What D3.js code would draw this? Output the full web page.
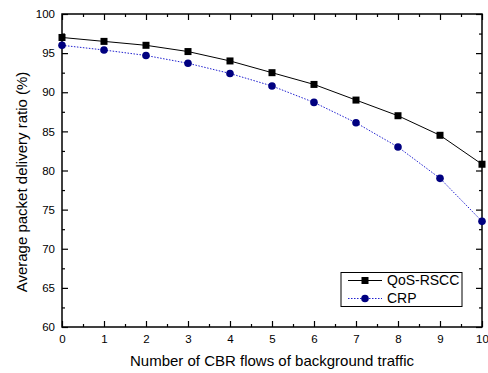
<!DOCTYPE html>
<html>
<head>
<meta charset="utf-8">
<script src="https://cdn.jsdelivr.net/npm/d3@7"></script>
<style>
  body { margin: 0; background: #fff; }
  svg { display: block; font-family: "Liberation Sans", Arial, sans-serif; }
  .axis .domain { display: none; }
  .axis line { stroke: #000; stroke-width: 1.2; }
  .axis text { font-size: 11.5px; fill: #000; }
</style>
</head>
<body>
<script>
// chart values
var flows = [0, 1, 2, 3, 4, 5, 6, 7, 8, 9, 10];
var qosRscc = [97.0, 96.5, 96.0, 95.2, 94.0, 92.5, 91.0, 89.0, 87.0, 84.5, 80.8];
var crp = [96.0, 95.4, 94.7, 93.7, 92.4, 90.8, 88.7, 86.1, 83.0, 79.0, 73.5];
var xTicks = [0, 1, 2, 3, 4, 5, 6, 7, 8, 9, 10];
var yTicks = [60, 65, 70, 75, 80, 85, 90, 95, 100];
var seriesNames = ["QoS-RSCC", "CRP"];

var w = 488, h = 373;
var pLeft = 62, pRight = 482, pTop = 14, pBottom = 327;

var svg = d3.select("body").append("svg")
  .attr("width", w)
  .attr("height", h);

var xScale = d3.scaleLinear().domain([0, 10]).range([pLeft, pRight]);
var yScale = d3.scaleLinear().domain([60, 100]).range([pBottom, pTop]);

var xMinor = d3.range(0.5, 10, 1);
var yMinor = d3.range(62.5, 100, 5);

// bottom axis
svg.append("g").attr("class", "axis")
  .attr("transform", "translate(0," + pBottom + ")")
  .call(d3.axisBottom(xScale).tickValues(xTicks).tickSize(-6).tickPadding(8).tickFormat(d3.format("d")));
svg.append("g").attr("class", "axis")
  .attr("transform", "translate(0," + pBottom + ")")
  .call(d3.axisBottom(xScale).tickValues(xMinor).tickSize(-3).tickFormat(""));

// top axis
svg.append("g").attr("class", "axis")
  .attr("transform", "translate(0," + pTop + ")")
  .call(d3.axisTop(xScale).tickValues(xTicks).tickSize(-6).tickFormat(""));
svg.append("g").attr("class", "axis")
  .attr("transform", "translate(0," + pTop + ")")
  .call(d3.axisTop(xScale).tickValues(xMinor).tickSize(-3).tickFormat(""));

// left axis
svg.append("g").attr("class", "axis")
  .attr("transform", "translate(" + pLeft + ",0)")
  .call(d3.axisLeft(yScale).tickValues(yTicks).tickSize(-6).tickPadding(7).tickFormat(d3.format("d")));
svg.append("g").attr("class", "axis")
  .attr("transform", "translate(" + pLeft + ",0)")
  .call(d3.axisLeft(yScale).tickValues(yMinor).tickSize(-3).tickFormat(""));

// right axis
svg.append("g").attr("class", "axis")
  .attr("transform", "translate(" + pRight + ",0)")
  .call(d3.axisRight(yScale).tickValues(yTicks).tickSize(-6).tickFormat(""));
svg.append("g").attr("class", "axis")
  .attr("transform", "translate(" + pRight + ",0)")
  .call(d3.axisRight(yScale).tickValues(yMinor).tickSize(-3).tickFormat(""));

// frame
svg.append("rect")
  .attr("x", pLeft).attr("y", pTop)
  .attr("width", pRight - pLeft).attr("height", pBottom - pTop)
  .attr("fill", "none").attr("stroke", "#000").attr("stroke-width", 1.5);

// lines
var line = d3.line()
  .x(function(d, i) { return xScale(flows[i]); })
  .y(function(d) { return yScale(d); });

svg.append("path").datum(qosRscc)
  .attr("d", line).attr("fill", "none")
  .attr("stroke", "#000").attr("stroke-width", 1);

svg.append("path").datum(crp)
  .attr("d", line).attr("fill", "none")
  .attr("stroke", "#2020d0").attr("stroke-width", 1)
  .attr("stroke-dasharray", "1.5,1.5");

// markers
var sq = 7;
svg.selectAll(".sq").data(qosRscc).enter().append("rect")
  .attr("class", "sq")
  .attr("x", function(d, i) { return xScale(flows[i]) - sq / 2; })
  .attr("y", function(d) { return yScale(d) - sq / 2; })
  .attr("width", sq).attr("height", sq)
  .attr("fill", "#000");

svg.selectAll(".dot").data(crp).enter().append("circle")
  .attr("class", "dot")
  .attr("cx", function(d, i) { return xScale(flows[i]); })
  .attr("cy", function(d) { return yScale(d); })
  .attr("r", 3.8)
  .attr("fill", "#000080");

// legend
var lg = svg.append("g");
lg.append("rect")
  .attr("x", 341).attr("y", 272.5).attr("width", 121).attr("height", 34)
  .attr("fill", "#fff").attr("stroke", "#000").attr("stroke-width", 1);

lg.append("line").attr("x1", 348).attr("x2", 382).attr("y1", 280.5).attr("y2", 280.5)
  .attr("stroke", "#000").attr("stroke-width", 1);
lg.append("rect").attr("x", 365 - sq / 2).attr("y", 280.5 - sq / 2)
  .attr("width", sq).attr("height", sq).attr("fill", "#000");
lg.append("line").attr("x1", 348).attr("x2", 382).attr("y1", 298.5).attr("y2", 298.5)
  .attr("stroke", "#2020d0").attr("stroke-width", 1).attr("stroke-dasharray", "1.5,1.5");
lg.append("circle").attr("cx", 365).attr("cy", 298.5).attr("r", 3.8).attr("fill", "#000080");

lg.selectAll("text").data(seriesNames).enter().append("text")
  .attr("x", 387)
  .attr("y", function(d, i) { return 280.5 + i * 18; })
  .attr("dy", "0.35em")
  .style("font-size", "14px")
  .text(function(d) { return d; });

// axis titles
svg.append("text")
  .attr("x", (pLeft + pRight) / 2).attr("y", 366)
  .attr("text-anchor", "middle")
  .style("font-size", "15px")
  .text("Number of CBR flows of background traffic");

svg.append("text")
  .attr("transform", "translate(27," + 182 + ") rotate(-90)")
  .attr("text-anchor", "middle")
  .style("font-size", "15px")
  .text("Average packet delivery ratio (%)");
</script>
</body>
</html>
